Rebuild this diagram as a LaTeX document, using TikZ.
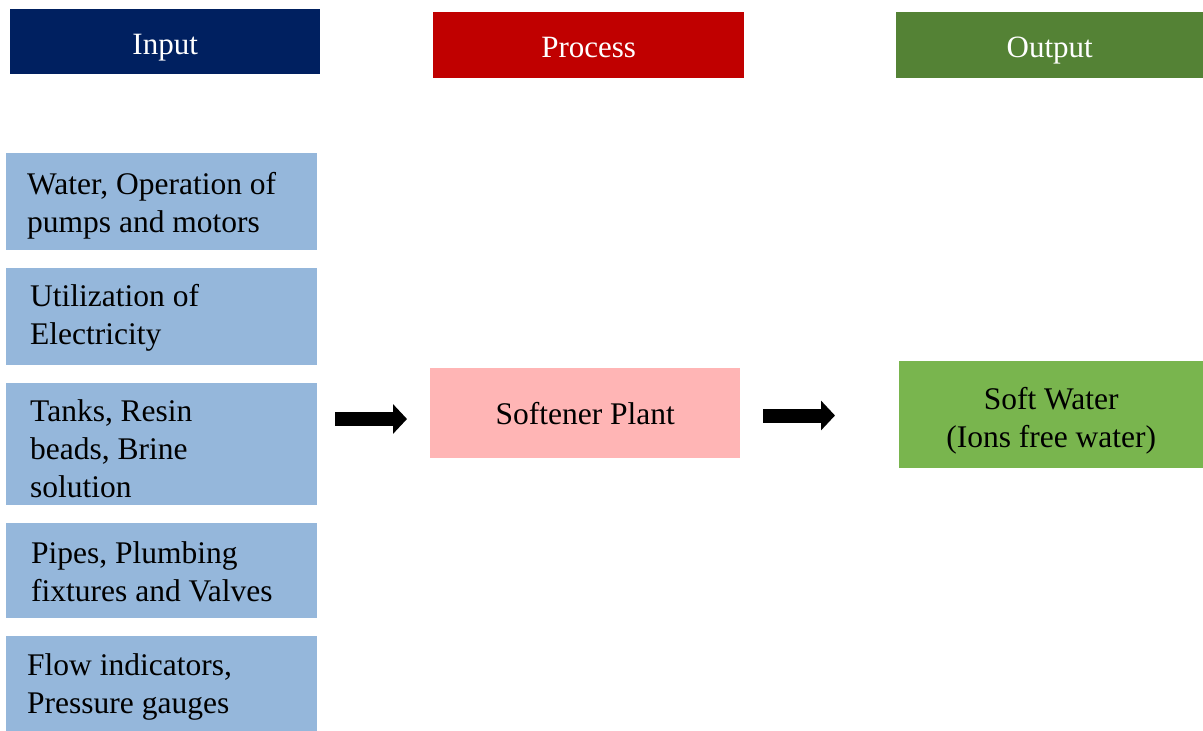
\documentclass[tikz,border=0pt]{standalone}
\usepackage{fontspec}
\setmainfont{Liberation Serif}
\usetikzlibrary{arrows.meta}
\definecolor{inblue}{HTML}{002060}
\definecolor{procred}{HTML}{C00000}
\definecolor{outgreen}{HTML}{548235}
\definecolor{boxblue}{HTML}{95B7DB}
\definecolor{pinkbox}{HTML}{FFB5B5}
\definecolor{greenbox}{HTML}{79B54E}
\tikzset{
  fbox/.style={fill=#1, draw=none, inner sep=0pt, anchor=north west},
  txt/.style={inner sep=0pt, font=\fontsize{31.5}{38}\selectfont, align=left, anchor=west},
  ctxt/.style={inner sep=0pt, font=\fontsize{31.5}{38}\selectfont, align=center},
  htxt/.style={inner sep=0pt, font=\fontsize{31}{37}\selectfont, text=white},
  blockarrow/.style={line width=14pt, -{Triangle[length=14pt,width=29pt]}}
}
\begin{document}
\begin{tikzpicture}[x=1pt,y=-1pt]
\useasboundingbox (0,0) rectangle (1203,731);
% headers
\node[fbox=inblue, minimum width=310, minimum height=65] (hin) at (10,9) {};
\node[htxt] at ([yshift=-6pt]hin.center) {Input};
\node[fbox=procred, minimum width=311, minimum height=66] (hproc) at (433,12) {};
\node[htxt] at ([yshift=-2pt]hproc.center) {Process};
\node[fbox=outgreen, minimum width=307, minimum height=66] (hout) at (896,12) {};
\node[htxt] at ([yshift=-5pt]hout.center) {Output};
% input boxes
\node[fbox=boxblue, minimum width=311, minimum height=97] (b1) at (6,153) {};
\node[txt] at (27,206) {Water, Operation of\\pumps and motors};
\node[fbox=boxblue, minimum width=311, minimum height=97] (b2) at (6,268) {};
\node[txt] at (30,318) {Utilization of\\Electricity};
\node[fbox=boxblue, minimum width=311, minimum height=122] (b3) at (6,383) {};
\node[txt] at (30,448.5) {Tanks, Resin\\beads, Brine\\solution};
\node[fbox=boxblue, minimum width=311, minimum height=95] (b4) at (6,523) {};
\node[txt] at (31,571.5) {Pipes, Plumbing\\fixtures and Valves};
\node[fbox=boxblue, minimum width=311, minimum height=95] (b5) at (6,636) {};
\node[txt] at (27,687) {Flow indicators,\\Pressure gauges};
% process
\node[fbox=pinkbox, minimum width=310, minimum height=90] (sp) at (430,368) {};
\node[ctxt] at (sp.center) {Softener Plant};
% output
\node[fbox=greenbox, minimum width=304, minimum height=107] (sw) at (899,361) {};
\node[ctxt] at ([yshift=-6pt]sw.center) {Soft Water\\(Ions free water)};
% arrows
\coordinate (a1s) at (335,419);
\coordinate (a1e) at (407,419);
\coordinate (a2s) at (763,415.5);
\coordinate (a2e) at (835,415.5);
\draw[blockarrow] (a1s) -- (a1e);
\draw[blockarrow] (a2s) -- (a2e);
\end{tikzpicture}
\end{document}
